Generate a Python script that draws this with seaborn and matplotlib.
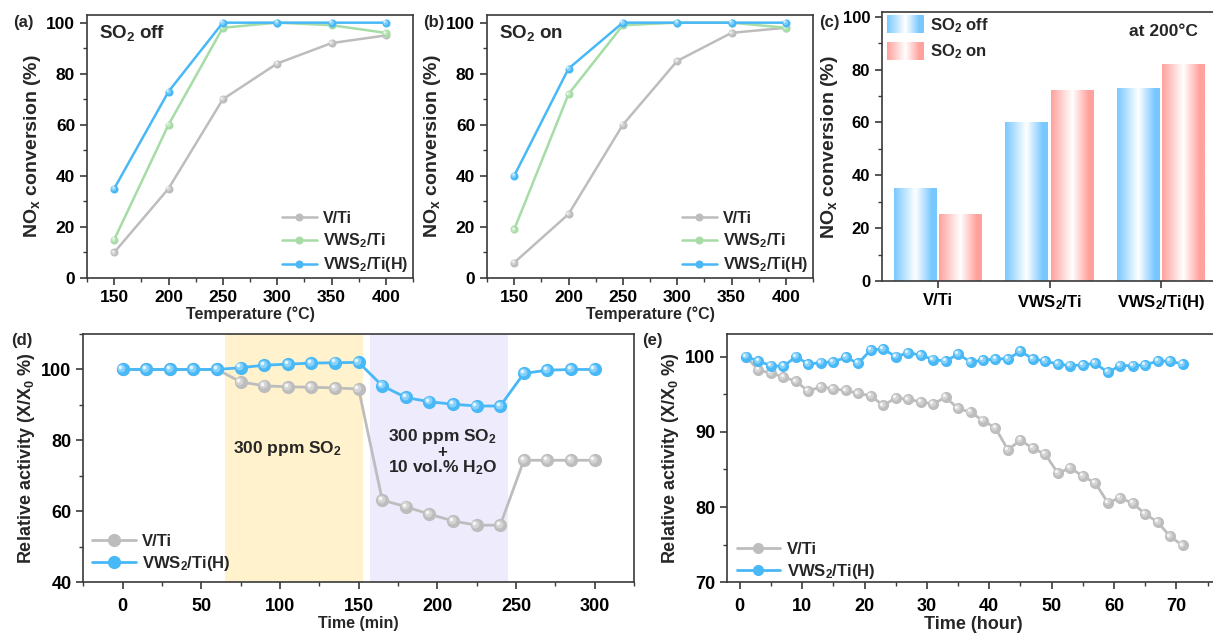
import numpy as np
import pandas as pd
import matplotlib
matplotlib.use("Agg")
import matplotlib.pyplot as plt
import seaborn as sns
from matplotlib import transforms as mtrans
from matplotlib.ticker import MultipleLocator
from matplotlib.colors import to_rgb
from matplotlib.patches import Patch
from matplotlib.legend_handler import HandlerBase
from matplotlib.image import BboxImage
from matplotlib.transforms import Bbox, TransformedBbox

# ---------------- data ----------------
temps = [150, 200, 250, 300, 350, 400]
a_vti = [10, 35, 70, 84, 92, 95]
a_vws = [15, 60, 98, 100, 99, 96]
a_vwsh = [35, 73, 100, 100, 100, 100]
b_vti = [6, 25, 60, 85, 96, 98]
b_vws = [19, 72, 99, 100, 100, 98]
b_vwsh = [40, 82, 100, 100, 100, 100]

c_cats = ['V/Ti', 'VWS$_2$/Ti', 'VWS$_2$/Ti(H)']
c_off = [35, 60, 73]
c_on = [25, 72, 82]

d_time = [0, 15, 30, 45, 60, 75, 90, 105, 120, 135, 150, 165, 180, 195, 210,
          225, 240, 255, 270, 285, 300]
d_vti = [100, 100, 100, 100, 100, 96.5, 95.4, 95.1, 95.0, 94.8, 94.5, 63.2,
         61.3, 59.2, 57.3, 56.1, 56.1, 74.4, 74.4, 74.4, 74.4]
d_vwsh = [100, 100, 100, 100, 100, 100.5, 101.2, 101.5, 101.8, 101.9, 102.0,
          95.4, 92.1, 90.9, 90.2, 89.7, 89.7, 98.9, 99.8, 100.0, 100.0]

e_time = [1, 3, 5, 7, 9, 11, 13, 15, 17, 19, 21, 23, 25, 27, 29, 31, 33, 35,
          37, 39, 41, 43, 45, 47, 49, 51, 53, 55, 57, 59, 61, 63, 65, 67, 69, 71]
e_vti = [100, 98.2, 97.8, 97.3, 96.7, 95.4, 96.0, 95.7, 95.5, 95.1, 94.8, 93.5,
         94.5, 94.3, 94.0, 93.7, 94.6, 93.1, 92.6, 91.5, 90.5, 87.6, 88.9, 87.8,
         87.0, 84.5, 85.2, 84.1, 83.2, 80.6, 81.2, 80.5, 79.1, 78.0, 76.1, 74.9]
e_vwsh = [100.0, 99.4, 98.8, 98.7, 100.0, 99.0, 99.2, 99.3, 99.9, 99.1, 100.9,
          101.0, 100.0, 100.5, 100.2, 99.6, 99.4, 100.3, 99.3, 99.5, 99.7, 99.7,
          100.7, 99.7, 99.4, 99.0, 98.8, 98.9, 99.1, 97.9, 98.8, 98.8, 98.9,
          99.4, 99.4, 99.0]

lab_vti = 'V/Ti'
lab_vws = 'VWS$_2$/Ti'
lab_vwsh = 'VWS$_2$/Ti(H)'

# ---------------- style ----------------
sns.set_theme(style='ticks')
plt.rcParams.update({
    'font.family': ['Liberation Sans', 'DejaVu Sans'],
    'font.weight': 'bold',
    'axes.labelweight': 'bold',
    'mathtext.default': 'regular',
    'axes.linewidth': 1.2,
    'axes.edgecolor': '#3a3a3a',
    'xtick.color': '#3a3a3a',
    'ytick.color': '#3a3a3a',
    'xtick.labelcolor': 'black',
    'ytick.labelcolor': 'black',
    'xtick.direction': 'out',
    'ytick.direction': 'out',
    'xtick.major.size': 5, 'ytick.major.size': 5,
    'xtick.minor.size': 3, 'ytick.minor.size': 3,
    'xtick.major.width': 1.2, 'ytick.major.width': 1.2,
    'xtick.minor.width': 1.0, 'ytick.minor.width': 1.0,
})

GRAY = '#bdbdbd'
GREEN = '#a6dca5'
BLUE = '#48b8f6'
BAR_BLUE = '#78c8ff'
BAR_RED = '#ffa19c'

W, H = 1213, 635
fig = plt.figure(figsize=(W / 100, H / 100), dpi=100)


def px_axes(l, r, t, b):
    return fig.add_axes([l / W, 1 - b / H, (r - l) / W, (b - t) / H])


def mix(c, f):
    c = np.array(to_rgb(c))
    return tuple(c + (1 - c) * f)


def sphere_series(ax, x, y, color, label, ms, lw, z):
    sns.lineplot(x=x, y=y, ax=ax, color=color, linewidth=lw, marker='o',
                 markersize=ms, markeredgewidth=0, label=label, zorder=z,
                 estimator=None, sort=False)
    tr1 = mtrans.offset_copy(ax.transData, fig=fig, x=-ms * 0.1, y=ms * 0.1, units='points')
    ax.plot(x, y, ls='none', marker='o', ms=ms * 0.6, color=mix(color, 0.35),
            mew=0, transform=tr1, zorder=z + 0.1)
    tr2 = mtrans.offset_copy(ax.transData, fig=fig, x=-ms * 0.17, y=ms * 0.17, units='points')
    ax.plot(x, y, ls='none', marker='o', ms=ms * 0.28, color=mix(color, 0.85),
            mew=0, transform=tr2, zorder=z + 0.2)


def style_ax(ax, fs=12.5):
    ax.tick_params(which='both', top=False, right=False, labelsize=fs)
    for t in ax.get_xticklabels() + ax.get_yticklabels():
        t.set_fontweight('bold')
    for s in ax.spines.values():
        s.set_visible(True)


# ---------------- (a) & (b) ----------------
def temp_panel(ax, vti, vws, vwsh, title):
    sphere_series(ax, temps, vti, GRAY, lab_vti, 5.8, 1.8, 3)
    sphere_series(ax, temps, vws, GREEN, lab_vws, 5.8, 1.8, 4)
    sphere_series(ax, temps, vwsh, BLUE, lab_vwsh, 5.8, 1.8, 5)
    ax.set_xlim(125, 425)
    ax.set_ylim(0, 103)
    ax.set_xticks(temps)
    ax.xaxis.set_minor_locator(MultipleLocator(25))
    ax.set_yticks([0, 20, 40, 60, 80, 100])
    ax.yaxis.set_minor_locator(MultipleLocator(10))
    ax.set_xlabel('Temperature (°C)', fontsize=11.5, fontweight='bold', labelpad=1)
    ax.set_ylabel('NO$_x$ conversion (%)', fontsize=14, fontweight='bold', labelpad=2)
    style_ax(ax)
    ax.text(0.037, 0.93, title, transform=ax.transAxes, fontsize=13.5,
            fontweight='bold', ha='left', va='center')
    h, l = ax.get_legend_handles_labels()
    ax.legend(h, l, loc='lower right', bbox_to_anchor=(1.025, -0.035), frameon=False,
              fontsize=11.5, handlelength=2.2, labelspacing=0.35,
              handletextpad=0.4, borderaxespad=0.4)


axa = px_axes(87, 413, 15, 278)
temp_panel(axa, a_vti, a_vws, a_vwsh, 'SO$_2$ off')
axb = px_axes(487, 813, 15, 278)
temp_panel(axb, b_vti, b_vws, b_vwsh, 'SO$_2$ on')

# ---------------- (c) ----------------
def grad_arr(color):
    c = np.array(to_rgb(color))
    t = np.linspace(0, 1, 256)
    f = np.interp(t, [0, 0.5, 0.88, 1.0], [1, 0, 1, 1])
    rgb = (1 - f[:, None]) * 1.0 + c[None, :] * f[:, None]
    return rgb[None, :, :]


grad_b = grad_arr(BAR_BLUE)
grad_r = grad_arr(BAR_RED)

axc = px_axes(882, 1215, 12.3, 281)
df_c = pd.DataFrame({'cat': c_cats * 2, 'val': c_off + c_on,
                     'cond': ['SO$_2$ off'] * 3 + ['SO$_2$ on'] * 3})
sns.barplot(data=df_c, x='cat', y='val', hue='cond', palette=[BAR_BLUE, BAR_RED],
            width=0.81, gap=0.05, ax=axc, legend=False, saturation=1,
            edgecolor='none', linewidth=0)
for p in list(axc.patches):
    fc = np.array(p.get_facecolor()[:3])
    arr = grad_b if np.allclose(fc, to_rgb(BAR_BLUE), atol=0.02) else grad_r
    x0, w_, h_ = p.get_x(), p.get_width(), p.get_height()
    axc.imshow(arr, extent=[x0, x0 + w_, 0, h_], aspect='auto',
               interpolation='bilinear', zorder=2.5)
axc.set_xlim(-0.502, 2.484)
axc.set_ylim(0, 101.7)
axc.set_yticks([0, 20, 40, 60, 80, 100])
axc.yaxis.set_minor_locator(MultipleLocator(10))
axc.set_xlabel('')
axc.set_ylabel('NO$_x$ conversion (%)', fontsize=14, fontweight='bold', labelpad=2)
style_ax(axc, 12)
axc.tick_params(axis='x', labelsize=12)
axc.text(0.845, 0.93, 'at 200°C', transform=axc.transAxes, fontsize=12.5,
         fontweight='bold', ha='center', va='center')


class GradHandler(HandlerBase):
    def __init__(self, arr):
        super().__init__()
        self.arr = arr

    def create_artists(self, legend, orig_handle, xdescent, ydescent, width,
                       height, fontsize, trans):
        bb = Bbox.from_bounds(-xdescent, -ydescent, width, height)
        tbb = TransformedBbox(bb, trans)
        img = BboxImage(tbb, interpolation='bilinear')
        img.set_data(self.arr)
        return [img]


hb = Patch(facecolor=BAR_BLUE)
hr = Patch(facecolor=BAR_RED)
axc.legend([hb, hr], ['SO$_2$ off', 'SO$_2$ on'], loc='upper left',
           bbox_to_anchor=(-0.018, 1.028), frameon=False, fontsize=12,
           handlelength=2.2, handleheight=1.25, labelspacing=0.45,
           handletextpad=0.4, borderaxespad=0.25,
           handler_map={hb: GradHandler(grad_b), hr: GradHandler(grad_r)})

# ---------------- (d) ----------------
axd = px_axes(83.3, 634, 334, 582.3)
axd.axvspan(65, 153, color='#fff2cc', lw=0, zorder=0)
axd.axvspan(157, 245, color='#eeebfd', lw=0, zorder=0)
sphere_series(axd, d_time, d_vti, GRAY, lab_vti, 9.5, 2.0, 3)
sphere_series(axd, d_time, d_vwsh, BLUE, lab_vwsh, 9.5, 2.0, 4)
axd.set_xlim(-25, 325)
axd.set_ylim(40, 110)
axd.set_xticks([0, 50, 100, 150, 200, 250, 300])
axd.xaxis.set_minor_locator(MultipleLocator(25))
axd.set_yticks([40, 60, 80, 100])
axd.yaxis.set_minor_locator(MultipleLocator(10))
axd.set_xlabel('Time (min)', fontsize=11.5, fontweight='bold', labelpad=1)
axd.set_ylabel('Relative activity (X/X$_0$ %)', fontsize=13, fontweight='bold', labelpad=3)
style_ax(axd, 13)
axd.tick_params(axis='x', pad=6)
axd.text(105, 77.6, '300 ppm SO$_2$', fontsize=12.5, fontweight='bold',
         ha='center', va='center')
axd.text(203, 81.2, '300 ppm SO$_2$', fontsize=12.5, fontweight='bold',
         ha='center', va='center')
axd.text(203, 76.7, '+', fontsize=12, fontweight='bold', ha='center', va='center')
axd.text(203, 72.2, '10 vol.% H$_2$O', fontsize=12.5, fontweight='bold',
         ha='center', va='center')
h, l = axd.get_legend_handles_labels()
axd.legend(h, l, loc='lower left', bbox_to_anchor=(-0.005, -0.01), frameon=False,
           fontsize=12, handlelength=2.6, labelspacing=0.3, handletextpad=0.4,
           borderaxespad=0.3)

# ---------------- (e) ----------------
axe = px_axes(727.3, 1220, 334, 582.3)
sphere_series(axe, e_time, e_vti, GRAY, lab_vti, 8, 2.0, 3)
sphere_series(axe, e_time, e_vwsh, BLUE, lab_vwsh, 8, 2.0, 4)
axe.set_xlim(-2, 77)
axe.set_ylim(70, 103)
axe.set_xticks([0, 10, 20, 30, 40, 50, 60, 70])
axe.xaxis.set_minor_locator(MultipleLocator(5))
axe.set_yticks([70, 80, 90, 100])
axe.yaxis.set_minor_locator(MultipleLocator(5))
axe.set_xlabel('Time (hour)', fontsize=13, fontweight='bold', labelpad=1)
axe.set_ylabel('Relative activity (X/X$_0$ %)', fontsize=13, fontweight='bold', labelpad=3)
style_ax(axe, 13)
axe.tick_params(axis='x', pad=6)
h, l = axe.get_legend_handles_labels()
axe.legend(h, l, loc='lower left', bbox_to_anchor=(-0.005, -0.04), frameon=False,
           fontsize=12, handlelength=2.6, labelspacing=0.3, handletextpad=0.4,
           borderaxespad=0.3)

# ---------------- panel labels ----------------
for txt, xp, yp in [('(a)', 23, 22), ('(b)', 434, 22), ('(c)', 829, 22),
                    ('(d)', 22, 341), ('(e)', 652, 341)]:
    fig.text(xp / W, 1 - yp / H, txt, fontsize=12, fontweight='bold',
             ha='center', va='center')

fig.savefig('out.png', dpi=100)
